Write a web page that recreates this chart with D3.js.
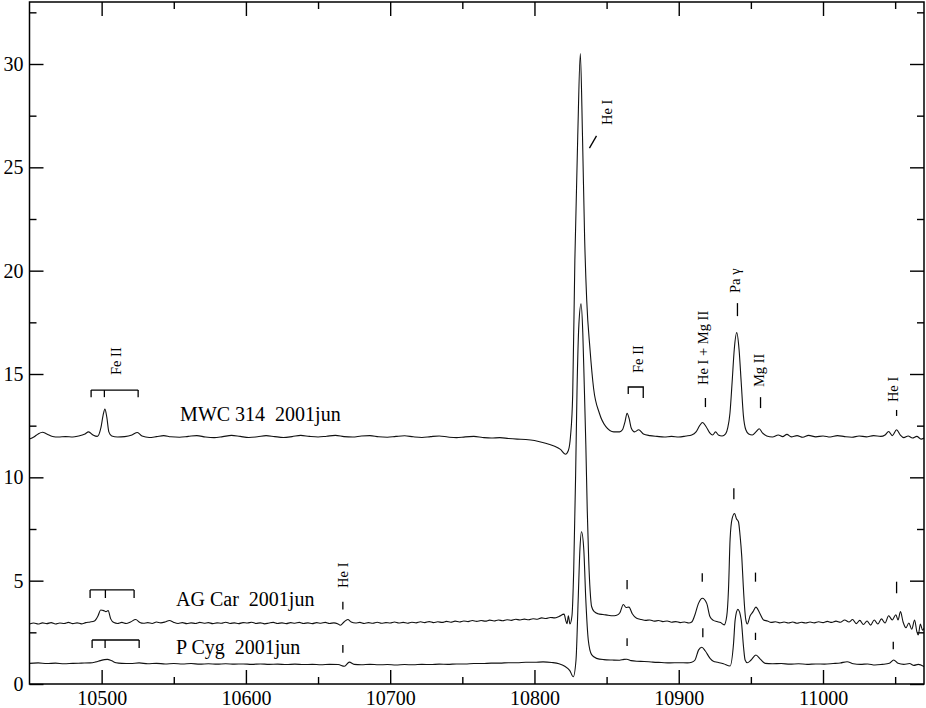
<!DOCTYPE html>
<meta charset="utf-8">
<script src="https://d3js.org/d3.v7.min.js"></script>
<style>
  body { margin: 0; background: #fff; }
  text { font-family: "Liberation Serif", "Times New Roman", serif; fill: #000; }
</style>
<svg id="chart"></svg>
<script>

// ---- data: [wavelength (A), relative flux] ----
const mwc314 = [
  [10450, 11.85], [10453, 11.95], [10456, 12.1], [10459, 12.18], [10462, 12.1], [10466, 11.98],
  [10470, 11.95], [10475, 11.97], [10480, 11.95], [10484, 12.0], [10488, 12.08], [10491, 12.2],
  [10494, 12.05], [10497, 11.98], [10499.5, 12.4], [10501, 13.0], [10502.3, 13.3], [10503.6, 12.9],
  [10505, 12.2], [10507, 12.0], [10511, 11.95], [10516, 11.97], [10521, 12.05], [10524.8, 12.17],
  [10528, 12.0], [10533, 11.93], [10538, 11.97], [10543, 12.02], [10548, 11.96], [10554, 11.94],
  [10560, 11.98], [10566, 12.02], [10572, 11.95], [10578, 11.92], [10584, 11.97], [10590, 12.03],
  [10596, 11.98], [10602, 11.93], [10608, 11.96], [10614, 12.02], [10620, 11.97], [10626, 11.93],
  [10632, 11.97], [10638, 12.03], [10644, 11.98], [10650, 11.95], [10656, 11.99], [10662, 12.03],
  [10668, 11.97], [10674, 11.95], [10680, 12.0], [10686, 12.02], [10692, 11.96], [10698, 11.94],
  [10704, 11.98], [10710, 12.01], [10716, 11.96], [10722, 11.93], [10728, 11.97], [10734, 12.0],
  [10740, 11.95], [10746, 11.92], [10752, 11.96], [10758, 11.98], [10764, 11.93], [10770, 11.9],
  [10776, 11.92], [10782, 11.88], [10788, 11.85], [10794, 11.83], [10800, 11.78], [10805, 11.7],
  [10810, 11.6], [10814, 11.5], [10818, 11.35], [10821.5, 11.12], [10823.5, 11.3], [10825, 12.0],
  [10826.5, 14.0], [10828, 20.5], [10830, 26.5], [10831.8, 30.5], [10833.3, 26.5], [10834.8, 21.5],
  [10836.2, 18.6], [10838.5, 16.2], [10841, 14.3], [10845, 13.1], [10849.5, 12.45], [10855, 12.2],
  [10859, 12.2], [10861, 12.3], [10862.8, 12.7], [10864.2, 13.1], [10865.6, 12.85], [10867, 12.4],
  [10869.4, 12.2], [10872.2, 12.3], [10875.5, 12.1], [10880, 12.02], [10885, 11.98], [10890, 11.95],
  [10895, 11.98], [10900, 11.95], [10905, 12.0], [10909, 12.05], [10912, 12.2], [10914.5, 12.5],
  [10916.5, 12.65], [10919, 12.45], [10921.5, 12.15], [10923.5, 12.05], [10925.5, 12.2], [10927.5, 12.05],
  [10930, 12.0], [10932.5, 12.1], [10934, 12.4], [10935.5, 13.1], [10937, 14.6], [10938.5, 16.2],
  [10940.2, 17.0], [10941.8, 16.2], [10943.3, 14.6], [10944.8, 13.0], [10946.5, 12.3], [10948.5, 12.1],
  [10951, 12.05], [10953.5, 12.2], [10955.8, 12.35], [10958, 12.15], [10961, 12.0], [10965, 11.95],
  [10969, 12.05], [10972, 11.97], [10975, 12.08], [10978, 11.96], [10982, 12.02], [10986, 11.94],
  [10990, 12.03], [10995, 11.96], [11000, 12.0], [11005, 11.95], [11010, 12.02], [11015, 11.97],
  [11020, 11.94], [11025, 12.0], [11030, 11.96], [11035, 12.02], [11040, 11.98], [11043, 12.05],
  [11045.5, 12.22], [11048, 12.02], [11051, 12.3], [11053.5, 12.05], [11056, 11.92], [11059, 12.0],
  [11062, 11.9], [11065, 11.98], [11068, 11.85], [11070, 11.9]
];

const agCar = [
  [10450, 2.9], [10453, 2.95], [10456, 2.9], [10459, 2.96], [10462, 2.92], [10465, 2.97], [10468, 2.9],
  [10471, 2.95], [10474, 2.93], [10477, 2.98], [10480, 2.92], [10483, 2.96], [10486, 2.91], [10489, 2.97],
  [10492, 3.0], [10495, 3.05], [10497.5, 3.3], [10499.3, 3.58], [10501.5, 3.55], [10503, 3.5],
  [10504.5, 3.55], [10506.3, 3.15], [10508.5, 2.97], [10511, 2.93], [10514, 2.98], [10517, 2.93],
  [10520, 3.0], [10523.6, 3.12], [10526.5, 2.98], [10529, 2.94], [10532, 2.97], [10535, 2.93], [10538, 3.0],
  [10541, 2.96], [10544, 3.0], [10547, 3.07], [10550, 2.98], [10553, 2.93], [10556, 2.97], [10559, 2.92],
  [10562, 2.96], [10565, 2.93], [10568, 2.98], [10571, 2.94], [10574, 2.97], [10577, 2.92], [10580, 2.96],
  [10583, 2.94], [10586, 2.99], [10589, 2.93], [10592, 2.96], [10595, 2.92], [10598, 2.97], [10601, 2.95],
  [10604, 2.99], [10607, 2.93], [10610, 2.96], [10613, 2.91], [10616, 2.95], [10619, 2.98], [10622, 2.93],
  [10625, 2.96], [10628, 2.92], [10631, 2.97], [10634, 2.94], [10637, 2.98], [10640, 2.93], [10643, 2.96],
  [10646, 2.92], [10649, 2.97], [10652, 2.94], [10655, 2.98], [10658, 2.93], [10661, 2.96], [10663.5, 2.92],
  [10665.5, 2.84], [10668, 3.0], [10670.6, 3.12], [10673, 3.0], [10676, 2.95], [10679, 2.98], [10682, 2.93],
  [10685, 2.97], [10688, 2.94], [10691, 2.99], [10694, 2.94], [10697, 2.97], [10700, 2.95], [10703, 3.0],
  [10706, 2.95], [10709, 2.98], [10712, 2.94], [10715, 2.99], [10718, 2.96], [10721, 3.01], [10724, 2.97],
  [10727, 3.02], [10730, 2.97], [10733, 3.01], [10736, 2.98], [10739, 3.03], [10742, 2.99], [10745, 3.04],
  [10748, 3.0], [10751, 3.05], [10754, 3.02], [10757, 3.07], [10760, 3.03], [10763, 3.07], [10766, 3.04],
  [10769, 3.09], [10772, 3.05], [10775, 3.1], [10778, 3.06], [10781, 3.11], [10784, 3.08], [10787, 3.13],
  [10790, 3.1], [10793, 3.14], [10796, 3.11], [10799, 3.16], [10802, 3.13], [10805, 3.2], [10808, 3.17],
  [10811, 3.22], [10814, 3.2], [10817, 3.27], [10820.5, 3.38], [10821.8, 3.05], [10822.6, 2.92],
  [10823.5, 3.3], [10824.6, 2.9], [10826, 3.3], [10827.2, 5.5], [10828.5, 10.0], [10829.5, 14.2],
  [10830.8, 17.4], [10832.3, 18.4], [10833.5, 17.0], [10834.5, 14.5], [10835.6, 11.6], [10836.6, 8.4],
  [10837.6, 6.0], [10838.6, 4.5], [10839.6, 3.75], [10841.5, 3.5], [10844, 3.4], [10847.5, 3.36],
  [10851, 3.33], [10854, 3.3], [10857, 3.33], [10859.2, 3.45], [10861.6, 3.85], [10863.5, 3.7],
  [10865.5, 3.72], [10867.8, 3.4], [10870.8, 3.18], [10874, 3.12], [10877, 3.08], [10880, 3.1],
  [10883, 3.04], [10886, 3.07], [10889, 3.02], [10892, 3.05], [10895, 2.99], [10898, 3.02], [10901, 2.97],
  [10904, 3.0], [10907, 2.95], [10909, 3.0], [10911, 3.3], [10913.7, 3.9], [10916.4, 4.15], [10919.4, 3.9],
  [10921.7, 3.25], [10924, 3.08], [10926.5, 3.02], [10929, 2.97], [10931.5, 2.86], [10933.3, 3.3],
  [10934.5, 4.6], [10935.6, 7.0], [10937, 8.0], [10938.7, 8.25], [10940, 8.0], [10941.4, 7.85],
  [10942.5, 7.2], [10943.7, 6.15], [10944.7, 4.8], [10945.6, 3.75], [10946.5, 3.1], [10947.5, 2.9],
  [10949.5, 3.3], [10951.5, 3.5], [10953.5, 3.72], [10956, 3.45], [10958.8, 3.1], [10961.5, 3.05],
  [10964, 2.98], [10967, 3.01], [10970, 2.96], [10973, 3.0], [10976, 2.95], [10979, 3.0], [10982, 2.94],
  [10985, 2.99], [10988, 2.95], [10991, 3.0], [10994, 2.96], [10997, 3.01], [11000, 2.97], [11003, 3.03],
  [11006, 2.98], [11009, 3.04], [11012, 2.99], [11015, 3.1], [11018, 3.0], [11020.5, 3.12], [11023, 2.92],
  [11025.5, 3.08], [11028, 2.88], [11030.5, 3.05], [11033, 2.85], [11035.5, 3.1], [11038, 2.9],
  [11040.5, 3.15], [11043, 2.95], [11045.5, 3.3], [11048, 3.1], [11050.5, 3.35], [11052, 3.1],
  [11053.7, 3.5], [11055.5, 3.0], [11057.5, 2.72], [11059.5, 2.95], [11061.5, 2.65], [11063.5, 3.1],
  [11065, 2.55], [11066, 2.37], [11067.5, 2.9], [11069, 2.6], [11070, 2.7]
];

const pCyg = [
  [10450, 1.0], [10456, 1.02], [10462, 0.99], [10468, 1.01], [10474, 0.98], [10480, 1.0], [10486, 1.01],
  [10492, 1.02], [10496, 1.07], [10499, 1.13], [10502, 1.18], [10504, 1.19], [10507, 1.12], [10510, 1.03],
  [10514, 1.0], [10520, 0.99], [10526, 1.02], [10532, 0.98], [10538, 1.0], [10544, 0.97], [10550, 0.99],
  [10556, 0.97], [10562, 0.99], [10568, 0.96], [10574, 0.98], [10580, 0.96], [10586, 0.98], [10592, 0.96],
  [10598, 0.97], [10604, 0.95], [10610, 0.97], [10616, 0.95], [10622, 0.96], [10628, 0.94], [10634, 0.96],
  [10640, 0.94], [10646, 0.95], [10652, 0.93], [10658, 0.95], [10664, 0.94], [10668.3, 0.86],
  [10671.7, 1.06], [10675, 0.95], [10680, 0.93], [10686, 0.95], [10692, 0.93], [10698, 0.94], [10704, 0.92],
  [10710, 0.94], [10716, 0.93], [10722, 0.95], [10728, 0.94], [10734, 0.96], [10740, 0.95], [10746, 0.97],
  [10752, 0.97], [10758, 0.99], [10764, 0.99], [10770, 1.01], [10776, 1.01], [10782, 1.03], [10788, 1.03],
  [10794, 1.05], [10800, 1.05], [10806, 1.07], [10812, 1.04], [10817, 0.98], [10821, 0.86], [10824.5, 0.65],
  [10826.9, 0.35], [10828.8, 1.16], [10830.3, 4.06], [10831.5, 6.5], [10832.6, 7.37], [10834.2, 6.5],
  [10835.6, 4.06], [10837.3, 2.13], [10839.6, 1.42], [10843, 1.24], [10848, 1.18], [10854, 1.16],
  [10859, 1.15], [10862, 1.19], [10864, 1.2], [10867, 1.13], [10871, 1.1], [10876, 1.09], [10882, 1.06],
  [10888, 1.04], [10894, 1.02], [10900, 1.03], [10906, 1.02], [10909, 1.05], [10911.3, 1.16],
  [10913.7, 1.64], [10916, 1.78], [10918.3, 1.61], [10921.7, 1.24], [10924, 1.1], [10927, 1.05],
  [10931, 0.98], [10935.6, 0.87], [10938, 1.97], [10939.1, 3.1], [10941, 3.61], [10943.3, 3.1],
  [10944.9, 1.8], [10946, 1.16], [10947.5, 1.03], [10950, 1.15], [10953.5, 1.4], [10956.5, 1.2],
  [10959.9, 1.0], [10965, 0.98], [10971, 0.99], [10977, 0.96], [10983, 0.98], [10989, 0.95], [10995, 0.97],
  [11001, 0.96], [11007, 0.99], [11012, 1.02], [11016.7, 1.08], [11021, 0.98], [11026, 0.95], [11031, 0.97],
  [11036, 0.92], [11041, 0.95], [11046, 1.0], [11049, 1.16], [11052, 1.0], [11056, 0.95], [11060, 0.99],
  [11063, 0.9], [11066, 0.95], [11070, 0.84]
];

// tick values
const xMajor = [10500, 10600, 10700, 10800, 10900, 11000];
const xMinor = [10550, 10650, 10750, 10850, 10950, 11050];
const yMajor = [0, 5, 10, 15, 20, 25, 30];
const yMinor = [2.5, 7.5, 12.5, 17.5, 22.5, 27.5, 32.5];

// star names: [text, wavelength, flux]
const starLabels = [
  ["MWC 314  2001jun", 10554.4, 12.73],
  ["AG Car  2001jun", 10551.6, 3.77],
  ["P Cyg  2001jun", 10551.6, 1.45]
];

// line identifications (rotated): [text, wavelength, flux at start of text]
const lineIds = [
  ["Fe II", 10513.5, 14.95],
  ["He I", 10854.0, 27.05],
  ["Fe II", 10875.3, 15.05],
  ["He I + Mg II", 10920.3, 14.47],
  ["Pa \u03b3", 10942.5, 18.92],
  ["Mg II", 10958.8, 14.37],
  ["He I", 11052.3, 13.64],
  ["He I", 10670.6, 4.65]
];

// short vertical markers: [wavelength, flux from, flux to]
const markers = [
  [10918.5, 13.40, 13.84], [10940.7, 17.80, 18.43], [10956.7, 13.35, 13.88], [11051.0, 12.97, 13.26],
  [10864.2, 4.58, 5.03], [10916.3, 4.95, 5.36], [10938.2, 8.94, 9.47], [10953.2, 4.95, 5.39],
  [11051.0, 4.39, 4.95], [10667.2, 3.61, 3.98],
  [10864.2, 1.84, 2.21], [10916.7, 2.26, 2.70], [10953.2, 2.13, 2.48], [11048.7, 1.68, 2.05],
  [10667.2, 1.51, 1.89]
];

// slanted marker for He I 10830 in MWC 314
const slantMarker = [[10838.1, 25.93], [10843.0, 26.52]];

// Fe II brackets: [flux of bar, flux of tick ends, wavelengths]
const brackets = [
  [14.22, 13.88, [10492.7, 10501.9, 10525.3]],
  [4.55, 4.16, [10492.0, 10502.6, 10522.5]],
  [2.13, 1.74, [10493.4, 10502.4, 10526.0]]
];
const feBracket2 = [[10865.0, 14.03], [10865.0, 14.37], [10875.4, 14.37], [10875.4, 13.84]];

// ---- layout ----
const width = 926, height = 708;
const margin = {left: 29.5, right: 2, top: 2, bottom: 24};
const serif = "'Liberation Serif', 'Times New Roman', serif";

const svg = d3.select("#chart").attr("width", width).attr("height", height);

const x = d3.scaleLinear().domain([10450, 11070]).range([margin.left, width - margin.right]);
const y = d3.scaleLinear().domain([0, 33]).range([height - margin.bottom, margin.top]);

svg.append("clipPath").attr("id", "plotclip")
  .append("rect")
    .attr("x", margin.left).attr("y", margin.top)
    .attr("width", width - margin.left - margin.right)
    .attr("height", height - margin.top - margin.bottom);

// axes with inward ticks
function styleAxis(g) {
  g.attr("font-family", serif).attr("font-size", 20);
  g.select(".domain").remove();
  g.selectAll(".tick line").attr("stroke", "#000").attr("stroke-width", 1.4);
  g.selectAll(".tick text").attr("fill", "#000").style("font-family", serif).style("font-size", "20px");
}

svg.append("g").attr("transform", `translate(0,${y(0)})`)
  .call(d3.axisBottom(x).tickValues(xMajor).tickFormat(d3.format("d")).tickSizeInner(-14).tickSizeOuter(0).tickPadding(7))
  .call(styleAxis);
svg.append("g").attr("transform", `translate(0,${y(0)})`)
  .call(d3.axisBottom(x).tickValues(xMinor).tickFormat("").tickSizeInner(-7).tickSizeOuter(0))
  .call(styleAxis);
svg.append("g").attr("transform", `translate(0,${y(33)})`)
  .call(d3.axisTop(x).tickValues(xMajor).tickFormat("").tickSizeInner(-14).tickSizeOuter(0))
  .call(styleAxis);
svg.append("g").attr("transform", `translate(0,${y(33)})`)
  .call(d3.axisTop(x).tickValues(xMinor).tickFormat("").tickSizeInner(-7).tickSizeOuter(0))
  .call(styleAxis);

svg.append("g").attr("transform", `translate(${x(10450)},0)`)
  .call(d3.axisLeft(y).tickValues(yMajor).tickSizeInner(-14).tickSizeOuter(0).tickPadding(6))
  .call(styleAxis);
svg.append("g").attr("transform", `translate(${x(10450)},0)`)
  .call(d3.axisLeft(y).tickValues(yMinor).tickFormat("").tickSizeInner(-7).tickSizeOuter(0))
  .call(styleAxis);
svg.append("g").attr("transform", `translate(${x(11070)},0)`)
  .call(d3.axisRight(y).tickValues(yMajor).tickFormat("").tickSizeInner(-14).tickSizeOuter(0))
  .call(styleAxis);
svg.append("g").attr("transform", `translate(${x(11070)},0)`)
  .call(d3.axisRight(y).tickValues(yMinor).tickFormat("").tickSizeInner(-7).tickSizeOuter(0))
  .call(styleAxis);

// spectra
const line = d3.line()
  .x(d => x(d[0]))
  .y(d => y(d[1]))
  .curve(d3.curveMonotoneX);

svg.append("g").attr("clip-path", "url(#plotclip)")
  .selectAll("path.spec")
  .data([mwc314, agCar, pCyg])
  .enter()
    .append("path")
      .attr("class", "spec")
      .attr("d", line)
      .attr("fill", "none")
      .attr("stroke", "#111")
      .attr("stroke-width", 1.1);

// frame
svg.append("rect")
  .attr("x", x(10450)).attr("y", y(33))
  .attr("width", x(11070) - x(10450)).attr("height", y(0) - y(33))
  .attr("fill", "none").attr("stroke", "#000").attr("stroke-width", 1.5);

// annotations
const ann = svg.append("g").attr("stroke", "#000").attr("stroke-width", 1.3).attr("fill", "none");

ann.selectAll("line.mark")
  .data(markers)
  .enter()
    .append("line")
      .attr("x1", d => x(d[0])).attr("x2", d => x(d[0]))
      .attr("y1", d => y(d[1])).attr("y2", d => y(d[2]));

ann.append("path").attr("d", d3.line().x(d => x(d[0])).y(d => y(d[1]))(slantMarker));
ann.append("path").attr("d", d3.line().x(d => x(d[0])).y(d => y(d[1]))(feBracket2));

brackets.forEach(b => {
  const [bar, end, w] = b;
  ann.append("line")
    .attr("x1", x(w[0])).attr("x2", x(w[2]))
    .attr("y1", y(bar)).attr("y2", y(bar));
  w.forEach(v => {
    ann.append("line")
      .attr("x1", x(v)).attr("x2", x(v))
      .attr("y1", y(bar)).attr("y2", y(end));
  });
});

svg.selectAll("text.star")
  .data(starLabels)
  .enter()
    .append("text")
      .attr("class", "star")
      .attr("x", d => x(d[1]))
      .attr("y", d => y(d[2]))
      .style("font-size", "20px")
      .style("white-space", "pre")
      .text(d => d[0]);

svg.selectAll("text.ident")
  .data(lineIds)
  .enter()
    .append("text")
      .attr("class", "ident")
      .attr("transform", d => `translate(${x(d[1])},${y(d[2])}) rotate(-90)`)
      .style("font-size", "14.5px")
      .text(d => d[0]);

</script>
